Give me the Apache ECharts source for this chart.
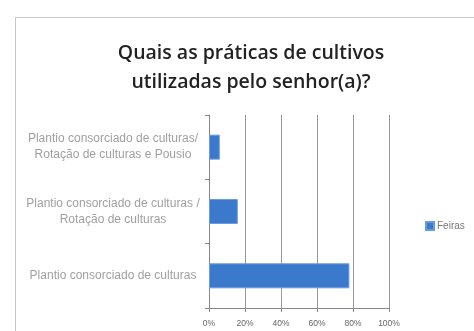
<!DOCTYPE html>
<html><head><meta charset="utf-8">
<script src="https://cdn.jsdelivr.net/npm/echarts@6/dist/echarts.min.js"></script>
<style>html,body{margin:0;padding:0;background:#fff;}#c{width:474px;height:331px;}
#frame{position:absolute;left:15px;top:17px;width:470px;height:330px;border:1.5px solid #c8c8c8;box-shadow:1px 1px 1px #e4e4e4;pointer-events:none;}</style>
</head><body>
<div id="c"></div><div id="frame"></div>
<script>
const titleText = 'Quais as práticas de cultivos\nutilizadas pelo senhor(a)?';
const categories = ['Plantio consorciado de culturas', 'Plantio consorciado de culturas /\nRotação de culturas', 'Plantio consorciado de culturas/\nRotação de culturas e Pousio'];
const seriesName = 'Feiras';
const values = [78, 16, 6];
const xTicks = [0, 20, 40, 60, 80, 100];

const chart = echarts.init(document.getElementById('c'));
chart.setOption({
  animation: false,
  title: {text: titleText, left: 246, top: 34, textAlign: 'center',
    textStyle: {fontFamily: 'Open Sans', fontSize: 19.5, fontWeight: 600, color: '#222', lineHeight: 29}},
  legend: {data: [seriesName], left: 420, top: 216, itemWidth: 8, itemHeight: 8, itemGap: 2,
    icon: 'rect', textStyle: {fontSize: 10, color: '#777', padding: [0,0,0,-2]}},
  grid: {left: 209, right: 85, top: 115, bottom: 23, containLabel: false},
  xAxis: {type: 'value', min: 0, max: 100, interval: 20,
    axisLine: {show: true, lineStyle: {color: '#888'}},
    axisTick: {show: true, length: 4, lineStyle: {color: '#888'}},
    axisLabel: {formatter: v => xTicks.includes(v) ? v + '%' : '', fontSize: 8.5, color: '#666', margin: 11},
    splitLine: {show: true, lineStyle: {color: '#999', width: 1}}},
  yAxis: {type: 'category', data: categories,
    axisLine: {show: true, lineStyle: {color: '#888'}},
    axisTick: {show: true, length: 4, lineStyle: {color: '#888'}},
    axisLabel: {fontSize: 12, color: '#a0a0a0', lineHeight: 16, align: 'center', margin: 96}},
  series: [{name: seriesName, type: 'bar', data: values, barWidth: 25,
    itemStyle: {color: '#3b79cc', borderColor: '#6a9be0', borderWidth: 1}}]
});
</script>
</body></html>
